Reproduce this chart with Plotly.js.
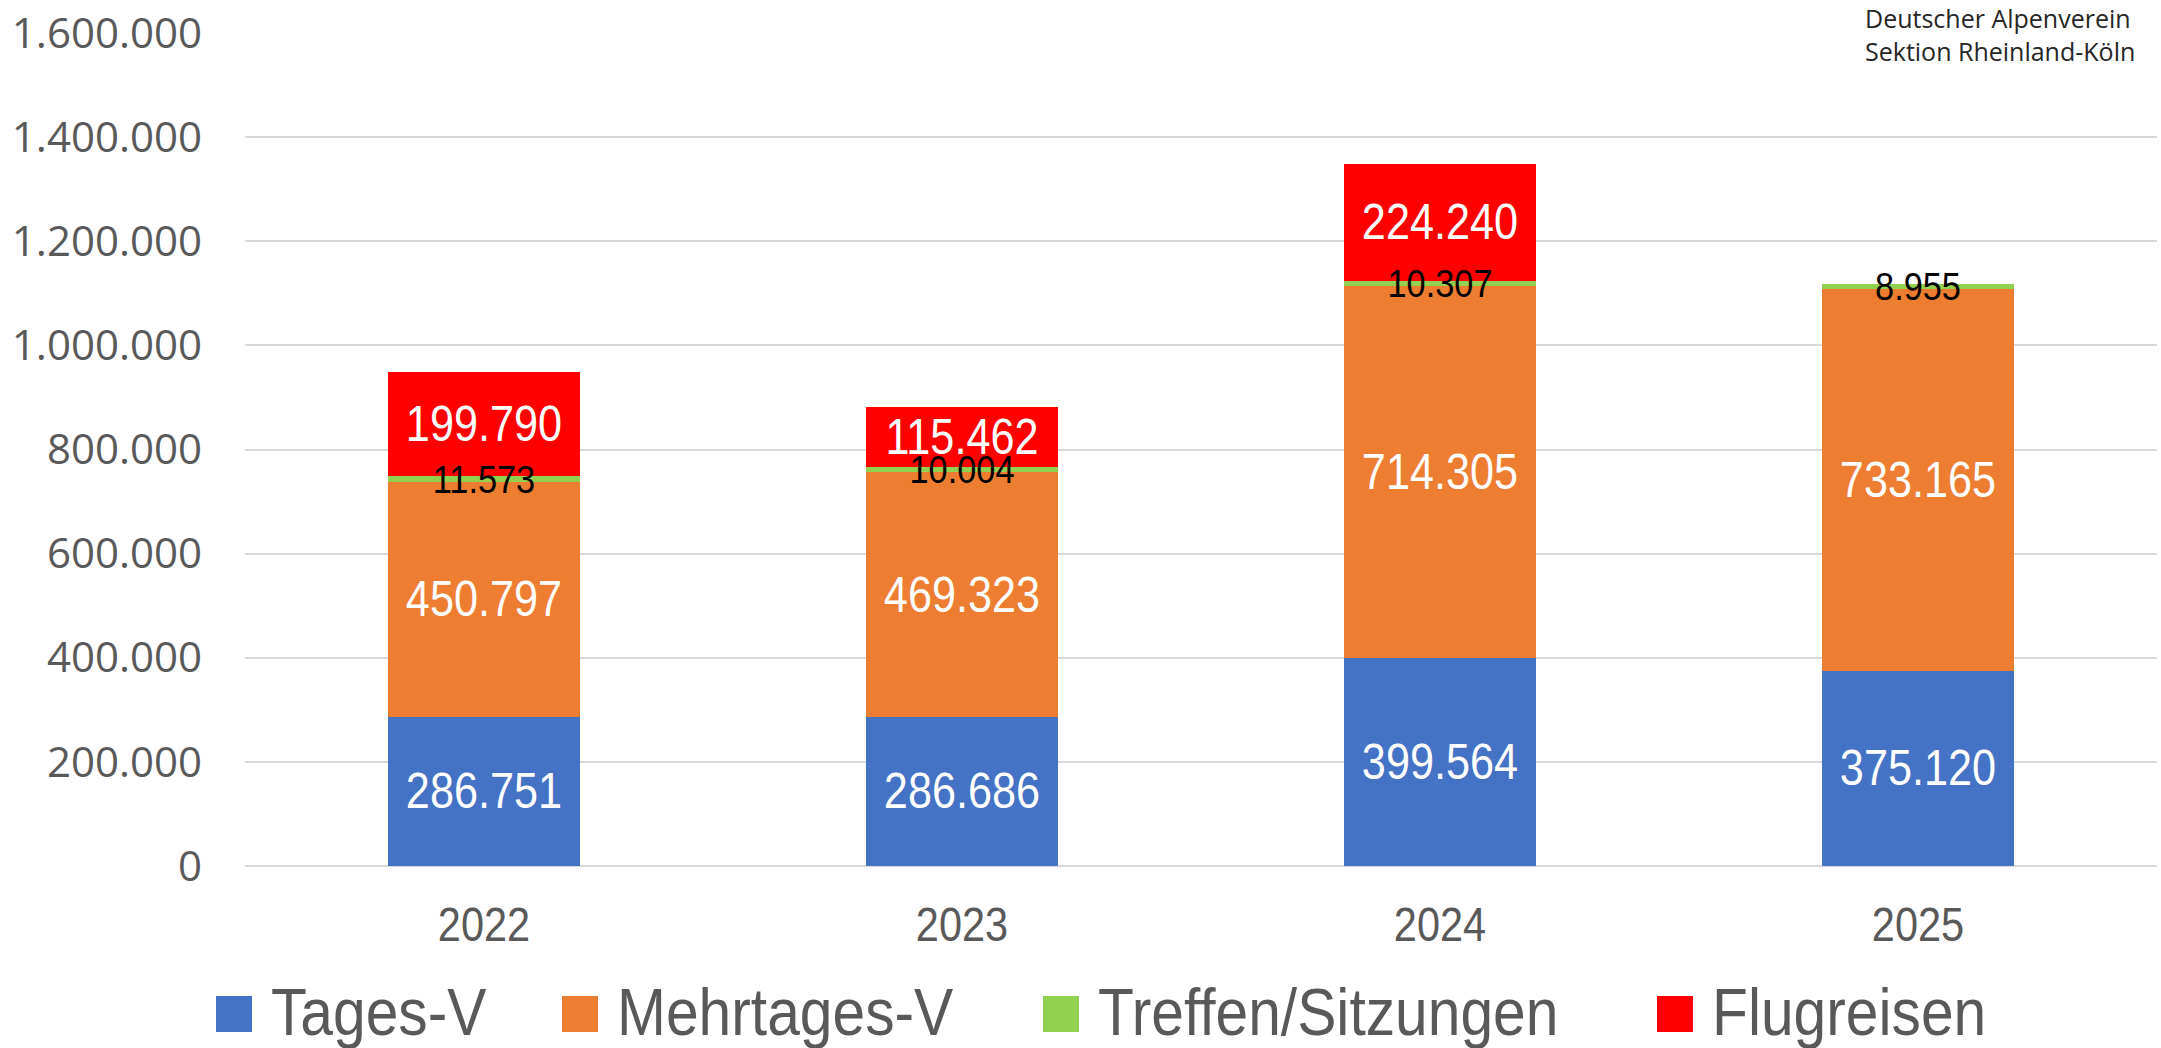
<!DOCTYPE html>
<html>
<head>
<meta charset="utf-8">
<script src="https://cdn.plot.ly/plotly-3.0.1.min.js"></script>
<style>html,body{margin:0;padding:0;background:#fff;}</style>
</head>
<body>
<div id="chart" style="width:2161px;height:1048px;"></div>
<script>
// ---- data ----
const years = ['2022', '2023', '2024', '2025'];
const seriesNames = ['Tages-V', 'Mehrtages-V', 'Treffen/Sitzungen', 'Flugreisen'];
const tagesV = [286751, 286686, 399564, 375120];
const mehrtagesV = [450797, 469323, 714305, 733165];
const treffen = [11573, 10004, 10307, 8955];
const flugreisen = [199790, 115462, 224240, null];
const sourceLines = ['Deutscher Alpenverein', 'Sektion Rheinland-Köln'];
const yTickValues = [0, 200000, 400000, 600000, 800000, 1000000, 1200000, 1400000, 1600000];

// ---- styles ----
const colors = ['#4472C4', '#ED7D31', '#92D050', '#FF0000'];
const labelColors = ['#FFFFFF', '#FFFFFF', '#000000', '#FFFFFF'];
const labelSizes = [50, 50, 39, 50];
const narrow = '"Liberation Sans", Arial, sans-serif';   // horizontally condensed after render
const squeezeBar = 0.865, squeezeSmall = 0.88, squeezeTick = 0.865, squeezeLegend = 0.89;
const W = 2161, H = 1048;
const M = {l: 245, r: 4, t: 33, b: 182};
const plotW = W - M.l - M.r, plotH = H - M.t - M.b;
const px = x => (x - M.l) / plotW;
const py = y => (H - M.b - y) / plotH;

function fmt(v) {
  if (v === null || v === undefined || v === 0) return '';
  return String(v).replace(/\B(?=(\d{3})+(?!\d))/g, '.');
}

const seriesValues = [tagesV, mehrtagesV, treffen, flugreisen];
const traces = seriesValues.map((vals, i) => ({
  type: 'bar',
  name: seriesNames[i],
  x: years,
  y: vals,
  text: vals.map(fmt),
  textposition: 'inside',
  insidetextanchor: 'middle',
  constraintext: 'none',
  textangle: 0,
  textfont: {family: narrow, size: labelSizes[i], color: labelColors[i]},
  marker: {color: colors[i], line: {width: 0}},
  showlegend: false,
  hoverinfo: 'x+y+name'
}));

// custom legend (large squares like the original)
const legendSquareLeft = [216, 562, 1043, 1657];
const sq = 36, sqTop = 996, textGap = 54;
const shapes = seriesNames.map((n, i) => ({
  type: 'rect', xref: 'paper', yref: 'paper',
  x0: px(legendSquareLeft[i]), x1: px(legendSquareLeft[i] + sq),
  y0: py(sqTop + sq), y1: py(sqTop),
  fillcolor: colors[i], line: {width: 0}
}));
const annotations = seriesNames.map((n, i) => ({
  xref: 'paper', yref: 'paper',
  x: px(legendSquareLeft[i] + textGap), y: py(sqTop + sq / 2 - 2),
  xanchor: 'left', yanchor: 'middle',
  text: n, showarrow: false, borderpad: 0,
  font: {family: narrow, size: 66, color: '#595959'}
}));
annotations.push({
  xref: 'paper', yref: 'paper',
  x: px(2136), y: py(0),
  xanchor: 'right', yanchor: 'top', align: 'left',
  text: sourceLines.join('<br>'), showarrow: false, borderpad: 0,
  font: {family: '"Open Sans", "Noto Sans", sans-serif', size: 25, color: '#262626'}
});

const layout = {
  width: W, height: H,
  margin: M,
  paper_bgcolor: '#FFFFFF', plot_bgcolor: '#FFFFFF',
  barmode: 'stack',
  bargap: 0.6,
  separators: ',.',
  showlegend: false,
  xaxis: {
    type: 'category',
    showgrid: false, zeroline: false, showline: false, ticks: '',
    ticklabelstandoff: 26,
    tickfont: {family: narrow, size: 48, color: '#595959'}
  },
  yaxis: {
    range: [0, 1600000],
    tickvals: yTickValues,
    ticktext: yTickValues.map(v => v === 0 ? '0' : fmt(v)),
    showgrid: true, gridcolor: '#D9D9D9', gridwidth: 2,
    zeroline: true, zerolinecolor: '#D9D9D9', zerolinewidth: 2,
    showline: false, ticks: '',
    ticklabelstandoff: 42,
    tickfont: {family: '"Open Sans", "Noto Sans", sans-serif', size: 42, color: '#595959'}
  },
  shapes: shapes,
  annotations: annotations
};

function squeeze(el, anchor, f) {
  const bb = el.getBBox();
  const cx = anchor === 'left' ? bb.x : bb.x + bb.width / 2;
  const cur = el.getAttribute('transform') || '';
  el.setAttribute('transform',
    cur + ' translate(' + cx + ',0) scale(' + f + ',1) translate(' + (-cx) + ',0)');
}

Plotly.newPlot('chart', traces, layout, {displayModeBar: false, staticPlot: true}).then(gd => {
  const layer = gd.querySelector('.barlayer');
  if (layer) {
    const tr = layer.querySelectorAll('.trace');
    tr.forEach((t, i) => {
      const f = i === 2 ? squeezeSmall : squeezeBar;
      t.querySelectorAll('.bartext').forEach(el => squeeze(el, 'center', f));
    });
    // paint the small Treffen/Sitzungen labels above the neighbouring bars
    if (tr[2]) layer.appendChild(tr[2]);
  }
  gd.querySelectorAll('.xtick text').forEach(el => squeeze(el, 'center', squeezeTick));
  gd.querySelectorAll('.annotation').forEach(g => {
    const idx = +g.getAttribute('data-index');
    if (idx < seriesNames.length) g.querySelectorAll('text').forEach(t => squeeze(t, 'left', squeezeLegend));
  });
});
</script>
</body>
</html>
